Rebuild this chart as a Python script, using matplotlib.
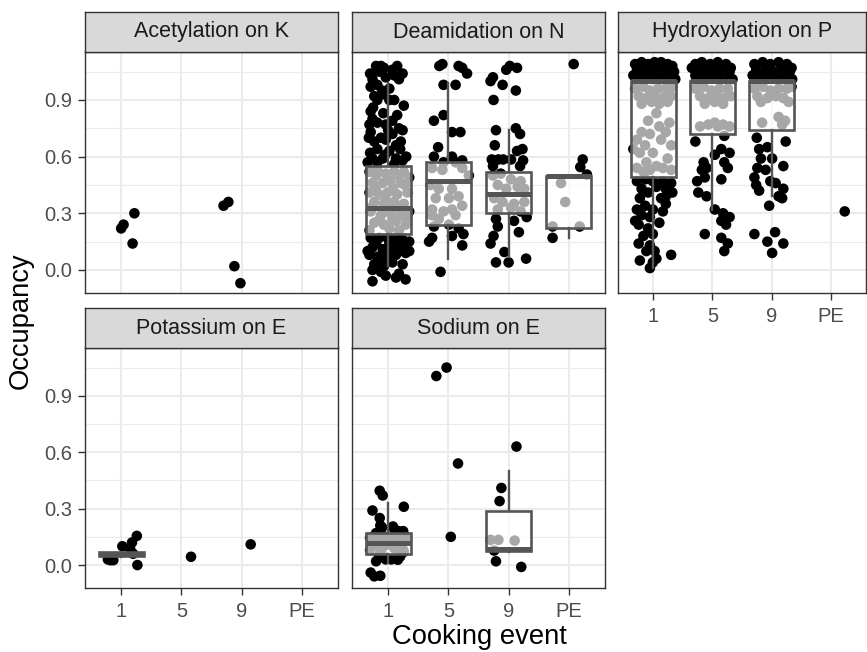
import matplotlib.pyplot as plt

plt.rcParams['font.family'] = ['Liberation Sans', 'DejaVu Sans']

events = ['1', '5', '9', 'PE']

# ---- jittered points (x = event position incl. jitter, y = occupancy) ----
acet_x = [1.00, 1.04, 1.22, 1.19, 2.70, 2.78, 2.88, 2.98]
acet_y = [0.22, 0.24, 0.30, 0.14, 0.34, 0.36, 0.02, -0.07]

deam_x = [
    # event 1, above box
    0.80, 0.93, 1.15, 0.85, 1.07, 1.24, 0.74, 0.96, 1.18, 0.82, 0.71, 1.02, 0.77, 0.93, 1.02, 0.82, 1.26, 0.71,
    0.74, 1.07, 0.82, 0.69, 0.96, 1.18, 1.24, 0.71, 1.07, 0.88, 0.96, 1.21, 0.77, 1.13, 0.82, 1.02, 0.74, 0.91,
    1.13, 1.24, 0.82, 0.66, 0.88, 1.10, 0.70, 0.90, 1.10, 0.75, 0.92, 1.15, 0.68, 1.00, 1.30, 0.95, 0.70, 1.10, 1.20,
    # event 1, inside box
    0.69, 0.82, 0.96, 1.10, 1.26, 1.35, 0.74, 0.91, 1.04, 1.21, 0.69, 0.85, 0.99, 1.15, 1.32, 0.77, 0.93, 1.10,
    1.26, 0.71, 0.88, 1.04, 1.21, 1.35, 0.77, 0.93, 1.13, 1.29, 0.69, 1.02, 1.18, 0.80, 1.08, 1.28, 0.72, 1.00,
    1.17, 0.86, 1.07, 0.80, 1.18, 0.95, 1.30,
    # event 1, below box
    0.71, 0.85, 0.99, 1.13, 1.24, 1.35, 0.74, 0.91, 1.07, 1.21, 0.69, 0.82, 0.96, 1.13, 1.29, 0.77, 0.93, 1.07,
    1.24, 0.88, 0.74, 1.18, 0.96, 1.29, 0.74, 1.13, 1.35, 0.66, 0.80, 1.02, 1.15, 0.88, 1.05, 1.30,
    # event 5
    1.85, 1.90, 2.17, 2.23, 2.31, 1.92, 2.12, 1.92, 1.76, 2.06, 2.20, 1.83, 1.76, 1.92, 2.06, 2.23, 2.12,
    1.73, 1.90, 2.23, 2.34, 1.70, 1.84, 2.06, 2.17, 1.79, 2.01, 2.23, 1.73, 1.92, 2.12, 1.84, 2.06, 1.73,
    1.76, 2.01, 2.17, 2.25, 2.06, 1.73, 1.68, 2.23, 1.87,
    # event 9
    3.02, 3.14, 2.96, 2.74, 2.70, 2.90, 3.12, 2.75,
    2.79, 3.12, 3.19, 2.77, 3.14, 3.23, 2.72, 2.83, 2.91, 3.04, 3.24, 3.19, 2.74,
    2.74, 2.87, 3.04, 3.20, 2.82, 2.96, 3.15, 3.26, 2.76, 2.90, 3.09, 3.26, 2.82, 3.04, 3.20,
    2.79, 3.09, 3.30, 2.82, 3.17, 2.75, 2.70, 2.93, 2.79, 3.00, 3.29,
    # PE
    4.08, 4.23, 4.19, 4.30, 3.87, 3.94, 3.73, 4.18, 3.73,
]
deam_y = [
    1.08, 1.07, 1.08, 1.05, 1.06, 1.04, 1.01, 1.02, 1.01, 0.98, 0.97, 0.96, 0.92, 0.93, 0.90, 0.90, 0.87, 0.84,
    0.80, 0.79, 0.78, 0.77, 0.77, 0.75, 0.74, 0.73, 0.72, 0.70, 0.69, 0.68, 0.68, 0.66, 0.64, 0.63, 0.59, 0.59,
    0.59, 0.58, 0.57, 0.57, 1.08, 1.03, 1.04, 0.95, 0.90, 0.86, 0.83, 0.82, 0.70, 0.74, 0.60, 0.61, 0.62, 0.56, 0.64,
    0.52, 0.53, 0.51, 0.52, 0.52, 0.49, 0.46, 0.46, 0.47, 0.46, 0.41, 0.40, 0.41, 0.40, 0.41, 0.36, 0.35, 0.36,
    0.35, 0.31, 0.29, 0.30, 0.29, 0.31, 0.25, 0.24, 0.26, 0.24, 0.21, 0.22, 0.21, 0.44, 0.43, 0.45, 0.33, 0.32,
    0.33, 0.27, 0.27, 0.50, 0.50, 0.38, 0.28,
    0.17, 0.17, 0.17, 0.17, 0.16, 0.15, 0.12, 0.11, 0.12, 0.11, 0.08, 0.07, 0.07, 0.08, 0.09, 0.03, 0.02, 0.04,
    0.03, -0.01, 0.00, -0.02, -0.03, -0.05, -0.06, -0.04, 0.10, 0.10, 0.14, 0.14, 0.13, 0.05, 0.09, 0.13,
    1.08, 1.09, 1.08, 1.07, 1.04, 0.98, 0.98, 0.82, 0.79, 0.73, 0.73, 0.65, 0.60, 0.57, 0.60, 0.58, 0.57,
    0.54, 0.53, 0.54, 0.50, 0.45, 0.43, 0.43, 0.39, 0.38, 0.38, 0.34, 0.32, 0.31, 0.29, 0.27, 0.32, 0.29,
    0.23, 0.24, 0.22, 0.19, 0.18, 0.17, 0.15, 0.13, -0.01,
    1.08, 1.07, 1.06, 1.02, 1.00, 0.98, 0.95, 0.90,
    0.74, 0.75, 0.72, 0.66, 0.63, 0.64, 0.585, 0.585, 0.585, 0.585, 0.58, 0.55, 0.55,
    0.50, 0.51, 0.48, 0.47, 0.45, 0.43, 0.44, 0.43, 0.38, 0.36, 0.35, 0.36, 0.32, 0.33, 0.31,
    0.27, 0.26, 0.28, 0.23, 0.20, 0.18, 0.14, 0.095, 0.04, 0.04, 0.06,
    1.09, 0.585, 0.545, 0.505, 0.46, 0.36, 0.23, 0.23, 0.17,
]

hydro_x = [
    # event 1
    0.69, 0.80, 0.91, 1.02, 1.13, 1.24, 1.32, 0.72, 0.86, 0.97, 1.08, 1.21, 1.35, 0.66, 0.77, 0.91, 1.05, 1.16,
    1.27, 1.37, 0.75, 1.19, 0.99, 0.86,
    0.69, 0.83, 0.94, 1.08, 1.21, 1.32, 0.75, 0.88, 1.02, 1.16, 1.30, 0.80, 0.97, 1.10, 1.24,
    1.05, 0.91, 1.27, 1.10, 0.80, 0.94, 1.21, 0.72, 1.13, 0.86, 0.99, 0.77, 1.24, 0.88, 0.72, 1.05, 1.16, 0.94,
    1.30, 0.83, 0.66, 1.30,
    0.72, 0.86, 0.99, 1.16, 1.30, 0.80, 1.05, 1.21, 0.91, 0.77, 1.13, 0.86, 1.21, 0.72, 0.99, 1.16, 0.80, 0.94,
    0.69, 1.10, 0.75, 0.91, 0.83, 0.99, 0.75, 0.94, 0.88, 1.02, 1.30, 0.77, 0.99, 0.94, 1.05, 1.21, 1.32,
    # event 5
    1.71, 1.82, 1.96, 2.09, 2.23, 2.31, 1.76, 1.90, 2.04, 2.18, 2.29, 1.71, 1.85, 1.98, 2.12, 2.26, 2.34, 1.65,
    1.71, 1.85, 1.98, 2.12, 2.26, 1.79, 1.93, 2.07, 2.20, 2.31, 1.87, 2.04, 2.18,
    1.79, 1.93, 2.04, 2.18, 2.29, 2.09,
    1.71, 2.20, 2.15, 2.29, 2.04, 1.85, 2.20, 1.90, 1.82, 2.26, 1.74, 2.15, 1.87, 1.76, 1.90, 2.04, 2.18, 2.29,
    2.15, 2.23, 1.87, 2.15, 2.26, 2.20,
    # event 9
    2.71, 2.85, 2.98, 3.12, 3.26, 3.34, 2.74, 2.90, 3.04, 3.18, 3.31, 2.68, 2.82, 2.96, 3.09, 3.23, 3.35,
    2.71, 2.85, 2.98, 3.12, 3.26, 3.34, 2.76, 2.93, 3.07, 3.20, 3.29, 2.82, 2.84, 3.12, 3.23, 3.18,
    2.75, 3.24, 2.79, 2.93, 2.82, 3.01, 3.20, 2.76, 2.90, 2.71, 2.98, 2.74, 3.07, 3.20, 2.79, 3.12, 3.18, 2.96,
    2.71, 3.06, 2.93, 3.20, 3.01,
    # PE
    4.24,
]
hydro_y = [
    1.09, 1.10, 1.09, 1.10, 1.10, 1.09, 1.08, 1.06, 1.06, 1.05, 1.07, 1.06, 1.05, 1.03, 1.02, 1.02, 1.03, 1.02,
    1.03, 1.01, 1.07, 1.07, 1.01, 1.03,
    0.96, 0.97, 0.95, 0.96, 0.96, 0.97, 0.92, 0.91, 0.92, 0.91, 0.92, 0.88, 0.89, 0.88, 0.89,
    0.83, 0.79, 0.78, 0.76, 0.73, 0.72, 0.73, 0.69, 0.69, 0.66, 0.62, 0.62, 0.59, 0.57, 0.54, 0.55, 0.54, 0.53,
    0.53, 0.52, 0.64, 0.66,
    0.47, 0.48, 0.47, 0.47, 0.46, 0.43, 0.44, 0.43, 0.41, 0.38, 0.38, 0.34, 0.35, 0.32, 0.32, 0.31, 0.29, 0.28,
    0.26, 0.25, 0.24, 0.22, 0.18, 0.19, 0.14, 0.13, 0.10, 0.10, 0.08, 0.05, 0.04, 0.01, 0.06, 0.39, 0.41,
    1.09, 1.10, 1.09, 1.10, 1.09, 1.07, 1.06, 1.06, 1.05, 1.07, 1.05, 1.03, 1.02, 1.02, 1.03, 1.02, 1.01, 1.07,
    0.96, 0.97, 0.95, 0.96, 0.96, 0.92, 0.91, 0.92, 0.91, 0.92, 0.88, 0.89, 0.88,
    0.76, 0.77, 0.78, 0.77, 0.76, 0.76,
    0.68, 0.71, 0.64, 0.62, 0.61, 0.57, 0.57, 0.54, 0.53, 0.54, 0.47, 0.48, 0.49, 0.41, 0.39, 0.32, 0.30, 0.28,
    0.26, 0.24, 0.19, 0.17, 0.14, 0.10,
    1.09, 1.10, 1.09, 1.10, 1.09, 1.07, 1.06, 1.06, 1.05, 1.07, 1.05, 1.03, 1.02, 1.02, 1.03, 1.02, 1.01,
    0.96, 0.97, 0.95, 0.96, 0.96, 0.97, 0.92, 0.91, 0.92, 0.91, 0.89, 0.89, 0.78, 0.81, 0.79, 0.77,
    0.70, 0.68, 0.64, 0.65, 0.59, 0.59, 0.55, 0.54, 0.53, 0.49, 0.47, 0.45, 0.46, 0.43, 0.42, 0.39, 0.38, 0.34,
    0.19, 0.20, 0.15, 0.14, 0.09,
    0.31,
]

pot_x = [0.78, 0.82, 0.87, 1.02, 1.15, 1.18, 1.20, 1.26, 1.27, 2.16, 3.15]
pot_y = [0.03, 0.026, 0.026, 0.10, 0.085, 0.12, 0.06, 0.155, 0.0, 0.044, 0.11]

sod_x = [1.80, 1.97, 2.16, 2.04,
         0.86, 0.91, 1.26, 0.74, 0.86, 0.87, 1.08, 1.18, 1.20, 0.80, 0.70,
         0.75, 0.85, 0.95, 1.05, 1.20, 1.30, 0.80, 0.90, 1.00, 1.10, 1.25, 0.70, 1.15,
         0.90, 1.10, 1.25,
         0.85, 0.95, 1.05, 1.20, 0.80, 1.16, 0.71, 0.77, 0.87, 0.96, 1.26,
         3.13, 2.88, 2.85, 2.79, 3.21, 2.76, 2.70, 2.83, 3.10]
sod_y = [1.005, 1.05, 0.54, 0.15,
         0.395, 0.37, 0.31, 0.29, 0.25, 0.21, 0.205, 0.18, 0.15, 0.17, 0.145,
         0.15, 0.14, 0.15, 0.14, 0.13, 0.15, 0.10, 0.09, 0.11, 0.09, 0.08, 0.08, 0.12,
         0.20, 0.19, 0.18,
         0.05, 0.04, 0.03, 0.045, 0.02, 0.028, -0.04, -0.06, -0.057, 0.03, 0.07,
         0.63, 0.41, 0.34, 0.02, -0.01, 0.077, 0.134, 0.134, 0.13]

# ---- box summaries ----
deam_pos = [1, 2, 3, 4]
deam_lo = [0.02, 0.06, 0.07, 0.17]
deam_q1 = [0.19, 0.24, 0.30, 0.22]
deam_med = [0.33, 0.47, 0.40, 0.50]
deam_q3 = [0.55, 0.57, 0.52, 0.50]
deam_hi = [0.99, 0.99, 0.74, 0.50]

hydro_pos = [1, 2, 3]
hydro_lo = [0.01, 0.32, 0.39]
hydro_q1 = [0.49, 0.72, 0.74]
hydro_med = [1.0, 1.0, 1.0]
hydro_q3 = [1.0, 1.0, 1.0]
hydro_hi = [1.0, 1.0, 1.0]

pot_pos = [1]
pot_lo = [0.045]
pot_q1 = [0.047]
pot_med = [0.06]
pot_q3 = [0.07]
pot_hi = [0.07]

sod_pos = [1, 3]
sod_lo = [0.01, 0.07]
sod_q1 = [0.06, 0.075]
sod_med = [0.115, 0.085]
sod_q3 = [0.17, 0.29]
sod_hi = [0.33, 0.50]

W, H = 867, 652
fig = plt.figure(figsize=(W / 100, H / 100), dpi=100)

col_left = [85, 352, 618]
col_w = [253, 253, 248]
row_top = [52, 348]
row_h = [241, 240]
strip_top = [12, 308]
strip_h = 40


def make_panel(col, row, title, xs, ys, box=None, show_x=False, show_y=False):
    l, w = col_left[col], col_w[col]
    ax = fig.add_axes([l / W, 1 - (row_top[row] + row_h[row]) / H, w / W, row_h[row] / H])
    ax.scatter(xs, ys, s=58, c='black', edgecolors='none', zorder=2)
    if box is not None:
        pos, lo, q1, med, q3, hi = box
        stats = [dict(whislo=a, q1=b, med=c, q3=d, whishi=e) for a, b, c, d, e in zip(lo, q1, med, q3, hi)]
        ax.bxp(stats, positions=pos, widths=0.75, showfliers=False, showcaps=False, patch_artist=True,
               manage_ticks=False, zorder=3,
               boxprops=dict(facecolor=(1, 1, 1, 0.66), edgecolor='#555555', linewidth=1.9),
               whiskerprops=dict(color='#555555', linewidth=1.7),
               medianprops=dict(color='#555555', linewidth=3.6, solid_capstyle='butt'))
    ax.set_xlim(0.4, 4.6)
    ax.set_ylim(-0.122, 1.154)
    ax.set_xticks([1, 2, 3, 4])
    ax.set_xticklabels(events)
    ax.set_yticks([0.0, 0.3, 0.6, 0.9])
    ax.set_yticklabels(['0.0', '0.3', '0.6', '0.9'])
    ax.set_yticks([0.15, 0.45, 0.75, 1.05], minor=True)
    ax.set_axisbelow(True)
    ax.grid(which='major', color='#EBEBEB', linewidth=1.5)
    ax.grid(which='minor', axis='y', color='#EBEBEB', linewidth=0.8)
    ax.tick_params(which='minor', length=0)
    ax.tick_params(axis='x', length=5 if show_x else 0, width=1, color='#333333',
                   labelbottom=show_x, labelsize=14.5, labelcolor='#4D4D4D', pad=5)
    ax.tick_params(axis='y', length=5 if show_y else 0, width=1, color='#333333',
                   labelleft=show_y, labelsize=14.5, labelcolor='#4D4D4D', pad=4)
    for s in ax.spines.values():
        s.set_color('#333333')
        s.set_linewidth(1.0)

    st = fig.add_axes([l / W, 1 - (strip_top[row] + strip_h) / H, w / W, strip_h / H])
    st.set_facecolor('#D9D9D9')
    st.set_xticks([])
    st.set_yticks([])
    for s in st.spines.values():
        s.set_color('#333333')
        s.set_linewidth(1.0)
    st.text(0.5, 0.5, title, ha='center', va='center', fontsize=15.5, color='#1A1A1A',
            transform=st.transAxes)
    return ax


make_panel(0, 0, 'Acetylation on K', acet_x, acet_y, show_y=True)
make_panel(1, 0, 'Deamidation on N', deam_x, deam_y,
           box=(deam_pos, deam_lo, deam_q1, deam_med, deam_q3, deam_hi))
make_panel(2, 0, 'Hydroxylation on P', hydro_x, hydro_y,
           box=(hydro_pos, hydro_lo, hydro_q1, hydro_med, hydro_q3, hydro_hi), show_x=True)
make_panel(0, 1, 'Potassium on E', pot_x, pot_y,
           box=(pot_pos, pot_lo, pot_q1, pot_med, pot_q3, pot_hi), show_x=True, show_y=True)
make_panel(1, 1, 'Sodium on E', sod_x, sod_y,
           box=(sod_pos, sod_lo, sod_q1, sod_med, sod_q3, sod_hi), show_x=True)

fig.text(21 / W, 1 - 321 / H, 'Occupancy', rotation=90, ha='center', va='center', fontsize=19.7)
fig.text(479 / W, 1 - 644 / H, 'Cooking event', ha='center', va='baseline', fontsize=19.7)

fig.savefig('out.png', dpi=100)
